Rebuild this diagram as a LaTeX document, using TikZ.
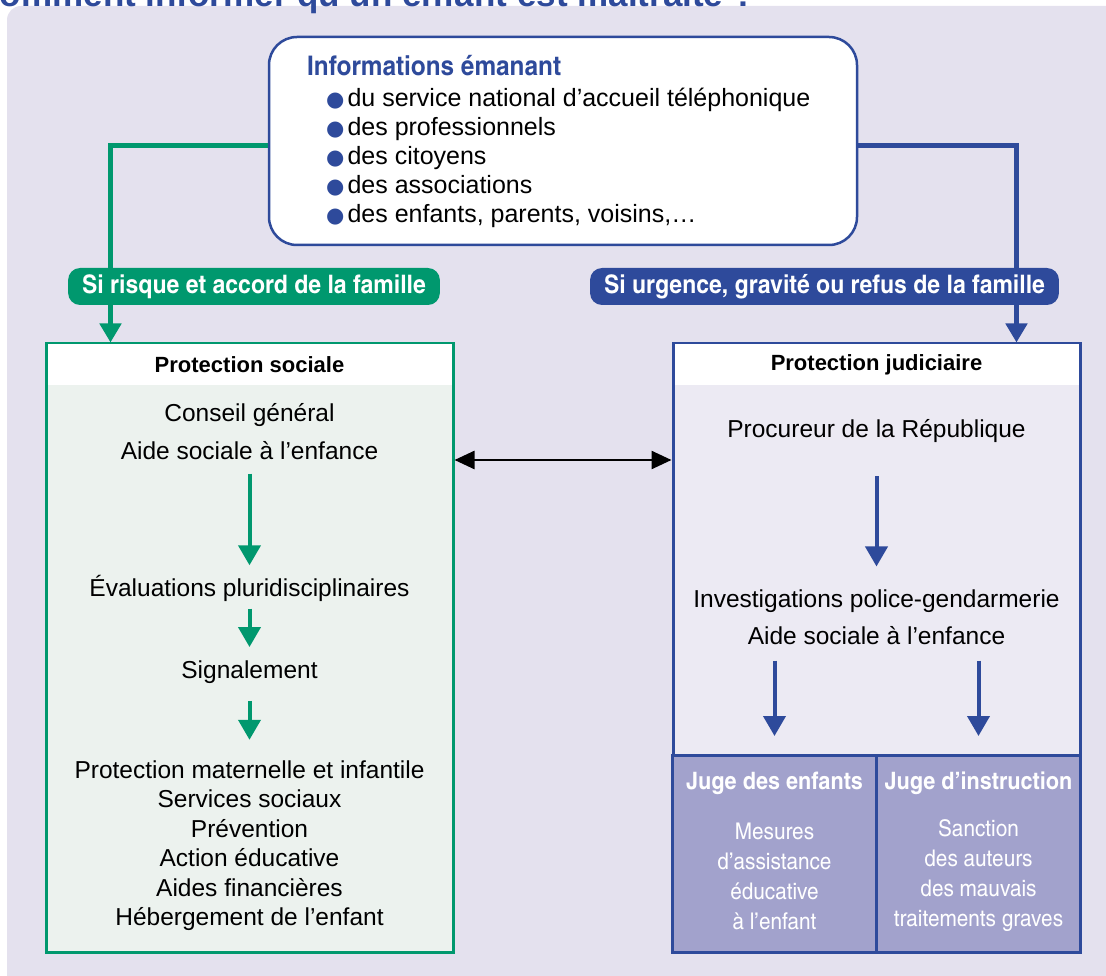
\documentclass[tikz,border=0pt]{standalone}
\usepackage{fontspec}
\setmainfont{Liberation Sans}
\newfontfamily\cnfont{TeX Gyre Heros Cn}[FakeStretch=1.1]
\newfontfamily\symfont{DejaVu Sans}
\usetikzlibrary{arrows.meta,positioning}

\definecolor{vert}{RGB}{0,152,110}
\definecolor{bleu}{RGB}{46,74,155}
\definecolor{fond}{RGB}{228,225,238}
\definecolor{fondvert}{RGB}{236,242,238}
\definecolor{fondbleu}{RGB}{236,234,243}
\definecolor{juge}{RGB}{162,162,204}

\newcommand\puce{{\symfont\fontsize{21}{21}\selectfont\textcolor{bleu}{●}}\hspace{3pt}}

\tikzset{
  pill/.style={fill=#1, rounded corners=12pt, text=white, minimum height=37pt, inner xsep=14pt,
    font=\cnfont\bfseries\fontsize{25.5}{25.5}\selectfont},
  panel/.style={draw=#1, line width=3pt, minimum width=407pt, minimum height=608pt},
  head/.style={fill=white, minimum width=404pt, minimum height=41pt, font=\bfseries\fontsize{22}{22}\selectfont},
  txt/.style={align=center, font=\fontsize{24.5}{#1}\selectfont},
  flow/.style={draw=#1, line width=4pt, -{Triangle[length=20pt,width=22pt]}},
  jugebox/.style={draw=bleu, fill=juge, line width=3pt, minimum width=204pt, minimum height=197pt},
  jugetete/.style={text=white, font=\cnfont\bfseries\fontsize{24}{24}\selectfont},
  jugetxt/.style={text=white, align=center, font=\cnfont\fontsize{23}{30}\selectfont}
}

\begin{document}
\begin{tikzpicture}[x=1pt, y=-1pt]
  \useasboundingbox (0,0) rectangle (1106,976);
  % fond et titre
  \fill[fond, rounded corners=14pt] (7,6) rectangle (1140,1010);
  \node[anchor=base west, inner sep=0, text=bleu, font=\bfseries\fontsize{35}{35}\selectfont] (titre) at (-25.5,7)
    {Comment informer qu’un enfant est maltraité ?};

  % informations
  \node[draw=bleu, line width=2.5pt, fill=white, rounded corners=28pt, minimum width=588pt, minimum height=208pt] (info) at (563,141) {};
  \node[anchor=north west, align=left, inner sep=0, font=\fontsize{25}{29}\selectfont] (infotxt) at (307,55) {%
    {\cnfont\bfseries\color{bleu}\fontsize{27}{29}\selectfont Informations émanant}\\[2pt]
    \hspace*{19pt}\puce du service national d’accueil téléphonique\\
    \hspace*{19pt}\puce des professionnels\\
    \hspace*{19pt}\puce des citoyens\\
    \hspace*{19pt}\puce des associations\\
    \hspace*{19pt}\puce des enfants, parents, voisins,\dots};

  % les deux protections
  \node[panel=vert, fill=fondvert] (social) at (249.5,648) {};
  \node[panel=bleu, fill=fondbleu] (judic) at (876.5,648) {};
  \node[head, anchor=north] (socialtete) at ([yshift=-1.5pt]social.north) {Protection sociale};
  \node[head, anchor=north] (judictete) at ([yshift=-1.5pt]judic.north) {Protection judiciaire};

  % protection sociale
  \node[txt=38] (cg) at (249.5,432) {Conseil général\\Aide sociale à l’enfance};
  \node[txt=30] (eval) at (249.5,588) {Évaluations pluridisciplinaires};
  \node[txt=30] (sig) at (249.5,672) {Signalement};
  \node[txt=29.5] (pmi) at (249.5,845.5) {Protection maternelle et infantile\\Services sociaux\\Prévention\\Action éducative\\Aides financières\\Hébergement de l’enfant};
  \foreach \a/\b/\s/\e in {cg/eval/10pt/6pt, eval/sig/4pt/10pt, sig/pmi/14pt/17pt}
    \draw[flow=vert, shorten <=\s, shorten >=\e] (\a) -- (\b);

  % protection judiciaire
  \node[txt=37] (proc) at (876.5,431) {Procureur de la République};
  \node[txt=37] (invest) at (876.5,617.5) {Investigations police-gendarmerie\\Aide sociale à l’enfance};
  \node[jugebox] (jenf) at (774.5,854) {};
  \node[jugebox] (jins) at (978.5,854) {};
  \node[jugetete] (jenftete) at (774.5,783) {Juge des enfants};
  \node[jugetete] (jinstete) at (978.5,783) {Juge d’instruction};
  \node[jugetxt] (jenftxt) at (774.5,876) {Mesures\\d’assistance\\éducative\\à l’enfant};
  \node[jugetxt] (jinstxt) at (978.5,876) {Sanction\\des auteurs\\des mauvais\\traitements graves};
  \draw[flow=bleu, shorten <=30pt, shorten >=20pt] (proc) -- (invest);
  \foreach \j in {jenf,jins}
    \draw[flow=bleu, shorten <=12pt, shorten >=18pt] (invest.south -| \j.north) -- (\j.north);

  % liaisons
  \draw[{Triangle[length=20pt,width=18pt]}-{Triangle[length=20pt,width=18pt]}, line width=2.5pt]
    ([yshift=188pt]social.east) -- ([yshift=188pt]judic.west);
  \draw[vert, line width=5pt, -{Triangle[length=19pt,width=21pt]}] ([yshift=-5pt]info.west) -| ([xshift=66pt]social.north west);
  \draw[bleu, line width=5pt, -{Triangle[length=19pt,width=21pt]}] ([yshift=-5pt]info.east) -| ([xshift=-65pt]judic.north east);
  \node[pill=vert] (accord) at (254,286.5) {Si risque et accord de la famille};
  \node[pill=bleu] (refus) at (824.5,286.5) {Si urgence, gravité ou refus de la famille};
\end{tikzpicture}
\end{document}
